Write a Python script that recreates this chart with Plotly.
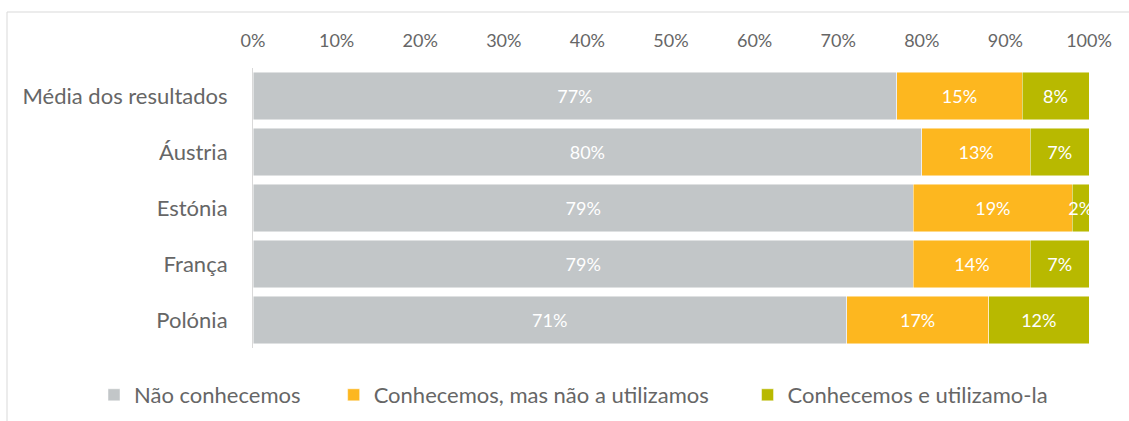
import plotly.graph_objects as go

categories = ["Média dos resultados", "Áustria", "Estónia", "França", "Polónia"]
nao_conhecemos = [77, 80, 79, 79, 71]
conhecemos_nao_utilizamos = [15, 13, 19, 14, 17]
conhecemos_utilizamos = [8, 7, 2, 7, 12]
legend_names = ["Não conhecemos", "Conhecemos, mas não a utilizamos", "Conhecemos e utilizamo-la"]
colors = ["#C2C6C8", "#FDB71F", "#B8B900"]
legend_pad = ["     ", "      ", ""]

series = [nao_conhecemos, conhecemos_nao_utilizamos, conhecemos_utilizamos]

FONT = "Lato"
TXT = "#666666"
fig = go.Figure()
for name, pad, vals, color in zip(legend_names, legend_pad, series, colors):
    fig.add_trace(go.Bar(
        y=categories,
        x=[v / 100 for v in vals],
        name=name + pad,
        orientation="h",
        marker=dict(color=color, line=dict(color="rgba(255,255,255,0.6)", width=0.8)),
        text=[f"{v}%" for v in vals],
        textposition="inside",
        insidetextanchor="middle",
        constraintext="none",
        textangle=0,
        cliponaxis=True,
        textfont=dict(color="white", size=18, family=FONT),
        hoverinfo="skip",
    ))

fig.update_layout(
    barmode="stack",
    bargap=0.16,
    width=1129,
    height=421,
    margin=dict(l=253, r=40, t=68, b=73, autoexpand=False),
    paper_bgcolor="white",
    plot_bgcolor="white",
    font=dict(family=FONT, size=22, color=TXT),
    showlegend=True,
    legend=dict(
        orientation="h",
        x=(94 - 253) / 836,
        xanchor="left",
        y=(348 - 395) / 280,
        yanchor="middle",
        font=dict(size=22, color=TXT, family=FONT),
        traceorder="normal",
        itemwidth=30,
    ),
    xaxis=dict(
        side="top",
        range=[0, 1],
        dtick=0.1,
        tick0=0,
        tickformat=".0%",
        showgrid=False,
        zeroline=False,
        showline=False,
        ticks="",
        ticklabelstandoff=16,
        tickfont=dict(size=18, color=TXT),
        fixedrange=True,
    ),
    yaxis=dict(
        autorange="reversed",
        showgrid=False,
        showline=True,
        linecolor="#D9D9D9",
        linewidth=1,
        ticks="",
        ticklabelstandoff=20,
        tickfont=dict(size=22, color=TXT),
        fixedrange=True,
    ),
    shapes=[dict(
        type="rect", xref="paper", yref="paper",
        x0=(7 - 253) / 836, x1=(1140 - 253) / 836,
        y0=(348 - 440) / 280, y1=(348 - 12) / 280,
        line=dict(color="#D9D9D9", width=1),
        fillcolor="rgba(0,0,0,0)",
        layer="below",
    )],
)

fig.write_html("out.html", config={"displayModeBar": False},
               post_script="document.body.style.margin='0';")
